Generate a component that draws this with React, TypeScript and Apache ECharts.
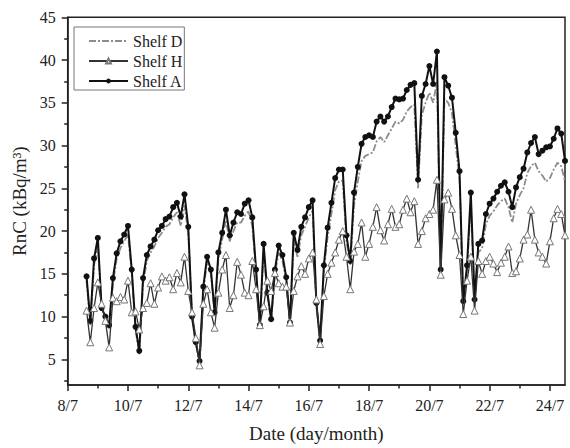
import React, { useEffect, useRef } from "react";
import * as echarts from "echarts";

// Readings every 3 hours, starting 8 July 15:00 (day-of-July as decimal)
const startDay = 8.625;
const stepDay = 0.125;

const shelfA = [
  14.7, 9.5, 16.8, 19.2, 11.0, 10.0, 9.0, 14.5, 17.4, 18.8, 19.6, 20.6,
  15.5, 8.8, 6.0, 14.5, 17.2, 18.2, 19.0, 20.1, 20.6, 21.4, 21.7, 22.8,
  23.3, 21.7, 24.3, 20.5, 10.0, 7.0, 4.8, 13.5, 17.0, 15.5, 10.5, 17.5,
  19.8, 22.5, 19.5, 21.0, 22.2, 22.0, 23.2, 23.6, 21.6, 15.5, 9.0, 18.5,
  12.8, 9.7, 15.5, 18.3, 17.2, 14.6, 9.3, 19.8, 17.8, 20.5, 21.6, 22.8,
  23.6, 11.6, 7.2, 16.0, 20.4, 23.3, 26.2, 27.2, 27.2, 19.5, 16.5, 24.5,
  27.5, 30.2, 31.0, 31.2, 31.0, 32.8, 33.4, 32.8, 33.4, 34.5, 35.5, 35.4,
  35.5, 36.5, 37.1, 37.3, 26.0, 35.8, 37.2, 39.3, 37.2, 41.0, 15.5, 38.0,
  37.0, 35.6, 31.5, 27.0, 11.8, 16.0, 24.5, 12.0, 18.5, 18.9, 22.0, 23.2,
  23.8, 24.6, 25.3, 25.7, 24.6, 22.8, 25.1, 26.3, 27.3, 29.2, 30.3, 31.0,
  29.0, 29.4, 29.8, 29.9, 30.8, 32.0, 31.4, 28.2,
];

const shelfD = [
  14.2, 9.0, 16.0, 18.3, 11.2, 9.8, 8.6, 13.8, 16.8, 18.0, 18.8, 19.6,
  15.0, 8.5, 5.6, 13.8, 16.5, 17.5, 18.2, 19.2, 19.8, 20.5, 20.8, 21.6,
  22.2, 20.6, 23.0, 19.8, 9.8, 6.8, 4.5, 13.0, 16.4, 15.0, 10.3, 16.8,
  19.0, 21.3, 18.8, 20.0, 21.0, 21.0, 21.8, 22.3, 20.6, 15.0, 9.0, 17.6,
  12.5, 9.5, 15.0, 17.5, 16.5, 14.2, 9.2, 18.8, 17.0, 19.5, 20.5, 21.6,
  22.4, 11.3, 7.0, 15.4, 19.4, 22.0, 24.8, 25.8, 25.9, 18.8, 16.0, 23.0,
  25.8, 28.2, 28.8, 29.0, 29.2, 30.5, 31.0, 30.4, 31.2, 32.0, 32.8, 32.6,
  33.0, 34.0, 34.5, 34.8, 25.0, 33.6, 35.0, 36.2, 35.0, 37.5, 15.5, 35.5,
  35.0, 33.8, 30.0, 26.0, 11.5, 15.5, 23.0, 12.0, 17.5, 18.0, 20.8, 21.8,
  22.3, 23.0, 23.5, 23.8, 22.8, 21.0, 23.2, 24.2, 25.0, 26.8, 27.6, 28.0,
  27.0, 26.5, 25.8, 26.2, 27.2, 28.0, 27.6, 25.8,
];

const shelfH = [
  10.7, 7.0, 11.0, 14.0, 11.5, 9.5, 6.4, 12.2, 11.8, 12.3, 12.0, 14.2,
  10.5, 10.6, 8.5, 11.0, 11.6, 13.9, 11.5, 13.4, 14.7, 14.2, 14.6, 13.2,
  15.1, 14.0, 17.0, 13.0, 10.5, 7.5, 4.3, 11.5, 13.2, 10.5, 8.7, 12.8,
  15.5, 17.2, 11.0, 12.5, 16.4, 14.9, 12.8, 12.5, 16.5, 13.2, 9.0, 11.2,
  14.2, 13.0, 15.1, 13.9, 13.5, 13.5, 9.3, 13.0, 14.7, 15.9, 15.0, 16.8,
  17.5, 12.0, 6.8, 12.4, 15.0, 16.3, 17.5, 19.0, 20.0, 17.0, 13.2, 17.6,
  18.5, 21.0, 17.0, 18.5, 20.5, 22.8, 20.1, 18.9, 20.8, 22.6, 20.5, 20.8,
  22.5, 23.8, 22.2, 23.5, 18.5, 20.0, 21.5, 22.0, 22.5, 26.0, 14.9, 23.7,
  24.5, 22.6, 19.5, 17.2, 10.3, 14.2, 17.0, 10.7, 16.5, 15.0, 16.5, 17.0,
  16.2, 15.2, 16.3, 17.0, 18.2, 15.1, 15.3, 16.8, 19.0, 19.6, 22.5, 19.0,
  17.5, 17.0, 16.2, 18.8, 21.5, 22.6, 22.0, 19.5,
];

const seriesNames = ["Shelf D", "Shelf H", "Shelf A"];
const xMajorTicks = [8, 10, 12, 14, 16, 18, 20, 22, 24];
const xMinorTicks = [9, 11, 13, 15, 17, 19, 21, 23];
const yMajorTicks = [5, 10, 15, 20, 25, 30, 35, 40, 45];
const yMinorTicks = [2.5, 7.5, 12.5, 17.5, 22.5, 27.5, 32.5, 37.5, 42.5];

const xMin = 8;
const xMax = 24.5;
const yMin = 2;
const yMax = 45;

const FONT = '"Liberation Serif", "Times New Roman", serif';
const INK = "#222";

function pairs(vals: number[]) {
  return vals.map((v, i) => [startDay + i * stepDay, v]);
}

export default function App() {
  const ref = useRef<HTMLDivElement>(null);
  useEffect(() => {
    if (!ref.current) return;
    const chart = echarts.init(ref.current, undefined, { renderer: "svg" });
    const axisLine = { show: true, lineStyle: { color: INK, width: 1.5 } };
    chart.setOption({
      animation: false,
      backgroundColor: "#fff",
      grid: {
        left: 67.7,
        right: 5,
        top: 17.3,
        bottom: 58,
        show: true,
        borderColor: INK,
        borderWidth: 1.5,
        backgroundColor: "transparent",
      },
      legend: {
        orient: "vertical",
        left: 74,
        top: 27,
        data: [
          { name: seriesNames[0], itemStyle: { opacity: 0 } },
          { name: seriesNames[1] },
          { name: seriesNames[2] },
        ],
        padding: [6, 2, 1, 14],
        itemGap: 4,
        itemWidth: 39,
        itemHeight: 6,
        borderColor: "#777",
        borderWidth: 1,
        backgroundColor: "#fff",
        textStyle: { fontFamily: FONT, fontSize: 16, color: INK },
      },
      xAxis: [
        {
          type: "value",
          min: xMin,
          max: xMax,
          position: "bottom",
          axisLine,
          axisTick: { show: true, customValues: xMajorTicks, length: 6, lineStyle: { color: INK, width: 1.5 } },
          axisLabel: {
            customValues: xMajorTicks,
            formatter: (v: number) => `${v}/7`,
            margin: 12,
            fontFamily: FONT,
            fontSize: 16,
            color: INK,
          },
          splitLine: { show: false },
          name: "Date (day/month)",
          nameLocation: "middle",
          nameGap: 39,
          nameTextStyle: { fontFamily: FONT, fontSize: 19, color: INK },
        },
        {
          type: "value",
          min: xMin,
          max: xMax,
          position: "bottom",
          axisLine: { show: false },
          axisTick: { show: true, customValues: xMinorTicks, length: 3.5, lineStyle: { color: INK, width: 1.5 } },
          axisLabel: { show: false },
          splitLine: { show: false },
        },
      ],
      yAxis: [
        {
          type: "value",
          min: yMin,
          max: yMax,
          position: "left",
          axisLine,
          axisTick: { show: true, customValues: yMajorTicks, length: 6, lineStyle: { color: INK, width: 1.5 } },
          axisLabel: {
            customValues: yMajorTicks,
            margin: 12,
            fontFamily: FONT,
            fontSize: 16,
            color: INK,
          },
          splitLine: { show: false },
          name: "RnC (kBq/m³)",
          nameLocation: "middle",
          nameGap: 30,
          nameTextStyle: { fontFamily: FONT, fontSize: 19, color: INK },
        },
        {
          type: "value",
          min: yMin,
          max: yMax,
          position: "left",
          axisLine: { show: false },
          axisTick: { show: true, customValues: yMinorTicks, length: 3.5, lineStyle: { color: INK, width: 1.5 } },
          axisLabel: { show: false },
          splitLine: { show: false },
        },
      ],
      series: [
        {
          name: "Shelf D",
          type: "line",
          data: pairs(shelfD),
          symbol: "none",
          lineStyle: { color: "#8c8c8c", width: 1.8, type: [7, 2, 2, 2] },
          itemStyle: { color: "#8c8c8c" },
          z: 2,
        },
        {
          name: "Shelf A",
          type: "line",
          data: pairs(shelfA),
          symbol: "circle",
          symbolSize: 6,
          lineStyle: { color: "#111", width: 2 },
          itemStyle: { color: "#111" },
          z: 3,
        },
        {
          name: "Shelf H",
          type: "line",
          data: pairs(shelfH),
          symbol: "triangle",
          symbolSize: 7,
          lineStyle: { color: "#333", width: 1.3 },
          itemStyle: { color: "#fff", borderColor: "#777", borderWidth: 1 },
          z: 4,
        },
      ],
    });
    return () => chart.dispose();
  }, []);
  return (
    <div
      ref={ref}
      style={{ position: "fixed", left: 0, top: 0, width: 570, height: 448, background: "#fff" }}
    />
  );
}
